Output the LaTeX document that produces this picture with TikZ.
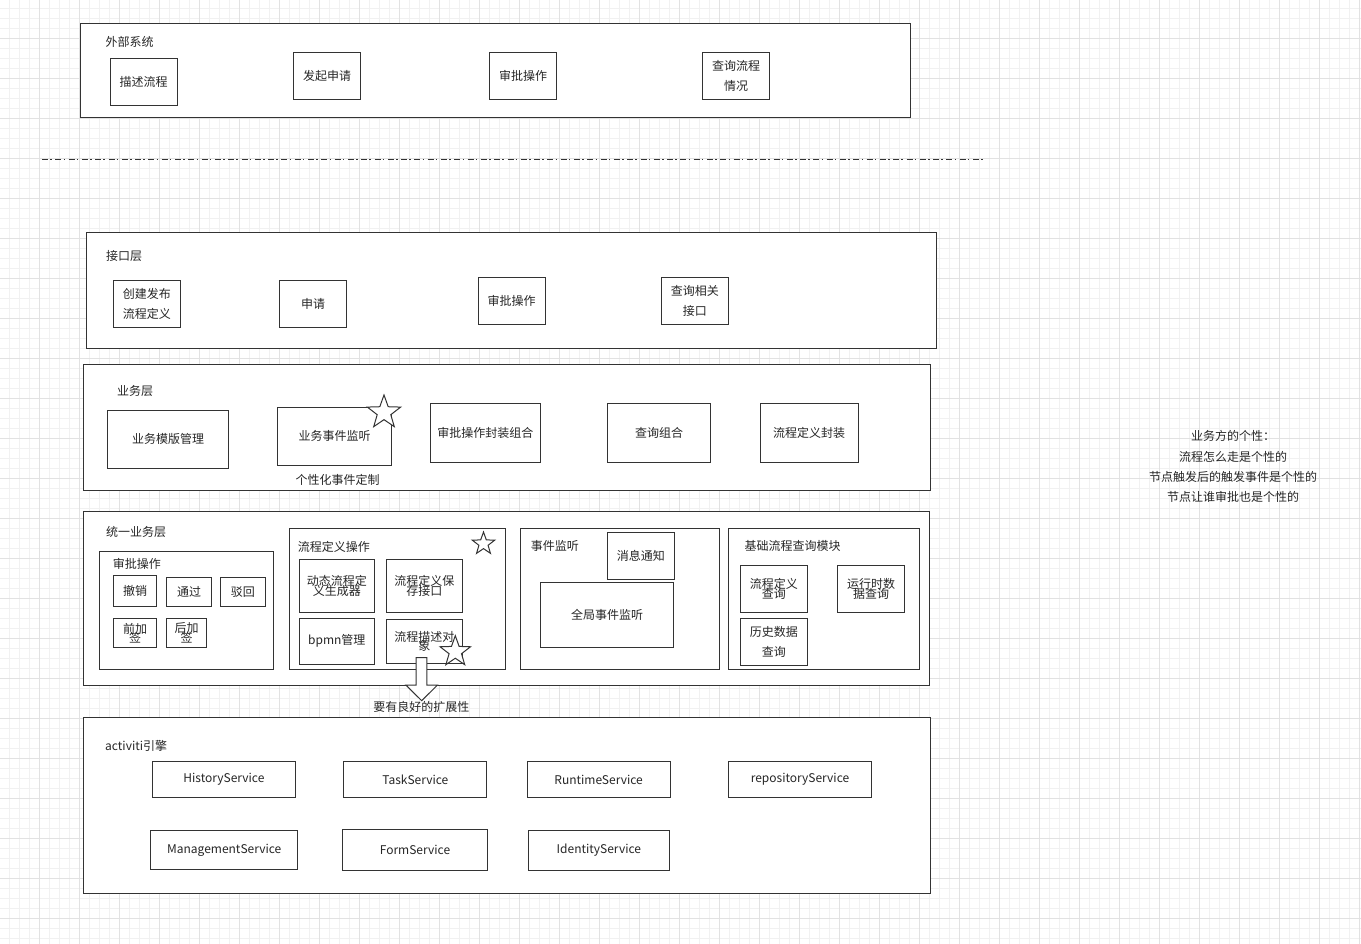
\documentclass[tikz,border=0pt]{standalone}
\usepackage{fontspec}
\setmainfont{Noto Sans CJK SC}
\usetikzlibrary{shapes.geometric}
\definecolor{ink}{HTML}{333333}
\definecolor{txt}{HTML}{262626}
\definecolor{gridminor}{HTML}{F1F1F1}
\definecolor{gridmajor}{HTML}{E2E2E2}
\tikzset{
  box/.style={draw=ink, line width=1pt, fill=white, inner sep=0pt, align=center, text=txt,
    font=\fontsize{12}{14}\selectfont},
  tall/.style={font={\fontsize{12}{20}\selectfont\lineskiplimit=-30pt}},
  tight/.style={font={\fontsize{12}{9.4}\selectfont\lineskiplimit=-30pt}},
  lbl/.style={inner sep=0pt, anchor=west, text=txt, font=\fontsize{12}{14}\selectfont},
  plain/.style={inner sep=0pt, text=txt, align=center, font=\fontsize{12}{14}\selectfont},
  starshape/.style={star, star points=5, star point ratio=2.45, draw=ink, line width=1pt,
    fill=white, inner sep=0pt},
}
\begin{document}
\begin{tikzpicture}[x=1pt, y=-1pt]
\useasboundingbox (0,0) rectangle (1361,944);
\fill[white] (0,0) rectangle (1361,944);
% grid
\foreach \x in {9,19,...,1359} \draw[gridminor, line width=0.8pt] (\x,0) -- (\x,944);
\foreach \y in {8,18,...,938} \draw[gridminor, line width=0.8pt] (0,\y) -- (1361,\y);
\foreach \x in {39,79,...,1359} \draw[gridmajor, line width=0.8pt] (\x,0) -- (\x,944);
\foreach \y in {38,78,...,938} \draw[gridmajor, line width=0.8pt] (0,\y) -- (1361,\y);

% ---------- 外部系统 ----------
\node[box, minimum width=830.4, minimum height=94] (ext) at (495.4,70.3) {};
\node[lbl] (extl) at (105.5,42.3) {外部系统};
\node[box, minimum width=66.8, minimum height=47] (e1) at (143.6,81.8) {描述流程};
\node[box, minimum width=67.4, minimum height=47] (e2) at (327,75.8) {发起申请};
\node[box, minimum width=67.4, minimum height=47] (e3) at (523,75.8) {审批操作};
\node[box, tall, minimum width=67.4, minimum height=47] (e4) at (736,75.8) {查询流程\\情况};

% separator
\coordinate (sepA) at (42,160);
\coordinate (sepB) at (983,160);
\draw[ink, line width=1pt, dash pattern=on 6pt off 2.2pt on 1.5pt off 3.6pt] (sepA) -- (sepB);

% ---------- 接口层 ----------
\node[box, minimum width=849.6, minimum height=116] (api) at (511.5,290.3) {};
\node[lbl] (apil) at (106,256) {接口层};
\node[box, tall, minimum width=67, minimum height=47] (a1) at (146.9,303.8) {创建发布\\流程定义};
\node[box, minimum width=66.6, minimum height=47] (a2) at (313.1,303.8) {申请};
\node[box, minimum width=66.6, minimum height=47] (a3) at (511.7,300.8) {审批操作};
\node[box, tall, minimum width=66.6, minimum height=47] (a4) at (694.9,300.8) {查询相关\\接口};

% ---------- 业务层 ----------
\node[box, minimum width=847, minimum height=126.7] (biz) at (507.3,427.35) {};
\node[lbl] (bizl) at (116.8,390.7) {业务层};
\node[box, minimum width=121.3, minimum height=58] (b1) at (168,439.3) {业务模版管理};
\node[box, minimum width=114, minimum height=58] (b2) at (334.5,436.3) {业务事件监听};
\node[starshape, minimum size=35] (s1) at (384,412.5) {};
\node[plain] (b2n) at (337.5,480) {个性化事件定制};
\node[box, minimum width=110.8, minimum height=58.7] (b3) at (485.4,432.7) {审批操作封装组合};
\node[box, minimum width=103.5, minimum height=58.7] (b4) at (659.2,432.7) {查询组合};
\node[box, minimum width=98, minimum height=58.7] (b5) at (809,432.7) {流程定义封装};

% ---------- 统一业务层 ----------
\node[box, minimum width=846, minimum height=173.3] (uni) at (506.3,598.35) {};
\node[lbl] (unil) at (106,531.7) {统一业务层};

\node[box, minimum width=174, minimum height=117.6] (g1) at (186.3,610.5) {};
\node[lbl] (g1l) at (112.7,564) {审批操作};
\node[box, minimum width=43.4, minimum height=31] (u1) at (135,591.2) {撤销};
\node[box, minimum width=45, minimum height=28.6] (u2) at (189.2,592) {通过};
\node[box, minimum width=45.7, minimum height=28.6] (u3) at (242.85,592) {驳回};
\node[box, tight, minimum width=43.4, minimum height=29.4] (u4) at (135,633) {前加\\签};
\node[box, tight, minimum width=40, minimum height=29.4] (u5) at (186.7,633) {后加\\签};

\node[box, minimum width=215.7, minimum height=141] (g2) at (397.15,598.8) {};
\node[lbl] (g2l) at (297.7,546.7) {流程定义操作};
\node[starshape, minimum size=23.6] (s2) at (483.5,543.8) {};
\node[box, tight, minimum width=75, minimum height=53] (d1) at (336.8,585.8) {动态流程定\\义生成器};
\node[box, tight, minimum width=76, minimum height=53] (d2) at (424.3,585.8) {流程定义保\\存接口};
\node[box, minimum width=75, minimum height=46] (d3) at (336.8,641.3) {bpmn管理};
\node[box, tight, minimum width=76, minimum height=44] (d4) at (424.3,641.3) {流程描述对\\象};
\node[starshape, minimum size=32] (s3) at (455.3,651.7) {};

\node[box, minimum width=198.3, minimum height=141] (g3) at (619.85,598.8) {};
\node[lbl] (g3l) at (530.7,545.7) {事件监听};
\node[box, minimum width=67, minimum height=47] (v1) at (640.8,555.8) {消息通知};
\node[box, minimum width=133.4, minimum height=65] (v2) at (607,614.8) {全局事件监听};

\node[box, minimum width=191, minimum height=141] (g4) at (823.8,598.8) {};
\node[lbl] (g4l) at (744.3,545.7) {基础流程查询模块};
\node[box, tight, minimum width=67, minimum height=47] (q1) at (773.8,588.8) {流程定义\\查询};
\node[box, tight, minimum width=66.6, minimum height=47] (q2) at (871,588.8) {运行时数\\据查询};
\node[box, tall, minimum width=67, minimum height=46.7] (q3) at (773.8,641.65) {历史数据\\查询};

% block arrow
\draw[ink, line width=1pt, fill=white]
  (416.2,657.7) -- (426.8,657.7) -- (426.8,685) -- (437.5,685) -- (421.7,700.7)
  -- (405.8,685) -- (416.2,685) -- cycle;
\node[plain] (ext2) at (421.3,706.7) {要有良好的扩展性};

% ---------- activiti引擎 ----------
\node[box, minimum width=846.1, minimum height=176] (act) at (506.95,805.3) {};
\node[lbl] (actl) at (105,746) {activiti引擎};
\node[box, minimum width=142.2, minimum height=36] (r1) at (223.9,779.7) {HistoryService};
\node[box, minimum width=142.8, minimum height=36] (r2) at (415.3,779.7) {TaskService};
\node[box, minimum width=142.8, minimum height=36] (r3) at (598.6,779.7) {RuntimeService};
\node[box, minimum width=143.4, minimum height=36] (r4) at (800,779.7) {repositoryService};
\node[box, minimum width=147.2, minimum height=38.6] (r5) at (224.2,850) {ManagementService};
\node[box, minimum width=144.4, minimum height=41.4] (r6) at (415,850) {FormService};
\node[box, minimum width=141, minimum height=40] (r7) at (598.85,850) {IdentityService};

% ---------- note ----------
\node[plain, font={\fontsize{12}{20.4}\selectfont}] (note) at (1233,466.8)
  {业务方的个性：\\流程怎么走是个性的\\节点触发后的触发事件是个性的\\节点让谁审批也是个性的};
\end{tikzpicture}
\end{document}
